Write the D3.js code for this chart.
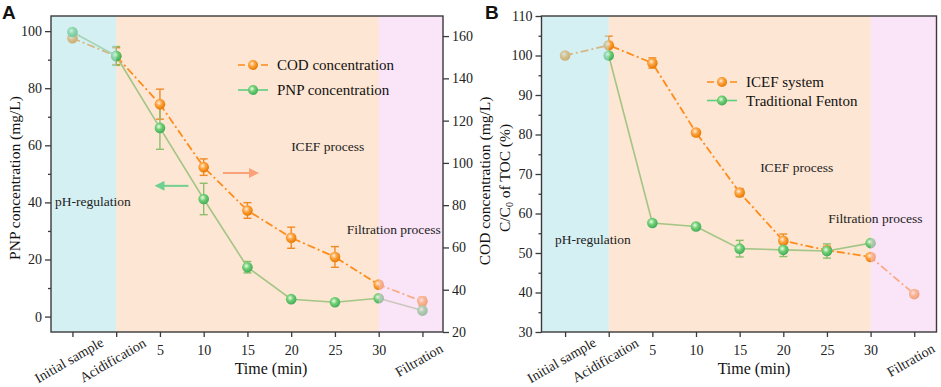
<!DOCTYPE html>
<html>
<head>
<meta charset="utf-8">
<script src="https://cdn.jsdelivr.net/npm/d3@7"></script>
<style>
  body { margin: 0; background: #fff; }
  svg { display: block; font-family: "Liberation Serif", "Times New Roman", serif; }
</style>
</head>
<body>
<svg width="941" height="387"></svg>
<script>
// categories on the x axis (shared by both panels)
var categories = ["Initial sample", "Acidification", "5", "10", "15", "20", "25", "30", "Filtration"];

// panel A : PNP (left axis) and COD (right axis), mg/L
var pnpValues = [99.7, 91.3, 66.1, 41.2, 17.3, 6.1, 5.0, 6.4, 2.1];
var pnpErrors = [0, 3.3, 7.5, 5.5, 2.0, 0.8, 0.5, 0.8, 0.5];
var codValues = [159, 150.5, 127.8, 98, 77.5, 64.6, 55.5, 42.4, 34.5];
var codErrors = [0, 4.0, 7.1, 3.9, 3.7, 5.0, 4.9, 1.5, 2.0];

// panel B : C/C0 of TOC (%)
var icefValues = [100, 102.6, 98.1, 80.5, 65.3, 53.1, 50.7, 49.0, 39.6];
var icefErrors = [0, 2.3, 1.3, 0.5, 1.0, 1.7, 1.0, 0.5, 0.8];
var fentonValues = [null, 100, 57.6, 56.7, 51.1, 50.8, 50.5, 52.5, null];
var fentonErrors = [0, 0.5, 0.5, 0.5, 2.1, 1.7, 1.8, 0.5, 0];

// tick values
var pnpTicks = [0, 20, 40, 60, 80, 100];
var pnpMinor = [10, 30, 50, 70, 90];
var codTicks = [20, 40, 60, 80, 100, 120, 140, 160];
var tocTicks = [30, 40, 50, 60, 70, 80, 90, 100, 110];
var tocMinor = [35, 45, 55, 65, 75, 85, 95, 105];

var ORANGE = "#ff8c1a", GREEN = "#a3c585";
var svg = d3.select("svg");
var defs = svg.append("defs");

function sphere(id, light, mid, dark) {
  var g = defs.append("radialGradient").attr("id", id)
      .attr("cx", "40%").attr("cy", "38%").attr("r", "62%");
  g.append("stop").attr("offset", "0%").attr("stop-color", light);
  g.append("stop").attr("offset", "45%").attr("stop-color", mid);
  g.append("stop").attr("offset", "100%").attr("stop-color", dark);
}
sphere("ballO", "#fff1dc", "#ffa340", "#e67a00");
sphere("ballG", "#eaffea", "#74cf74", "#3fae5a");

function idx(arr) {
  return arr.map(function(v, i) { return {i: i, v: v}; }).filter(function(d) { return d.v != null; });
}

function panel(o) {
  var g = svg.append("g");
  var x = d3.scaleLinear().domain(o.xDomain).range([o.left, o.right]);

  // region backgrounds (orange under the data)
  g.append("rect").attr("x", x(1)).attr("y", o.top).attr("width", x(7) - x(1))
    .attr("height", o.bottom - o.top).attr("fill", "#fde6d3");

  o.series.forEach(function(s) {
    var data = idx(s.values);
    var line = d3.line().x(function(d) { return x(d.i); }).y(function(d) { return s.y(d.v); });
    g.append("path").attr("d", line(data)).attr("fill", "none")
      .attr("stroke", s.color).attr("stroke-width", s.width)
      .attr("stroke-dasharray", s.dash || null);
    data.forEach(function(d) {
      var e = s.errors[d.i];
      if (e > 0) {
        var y1 = s.y(d.v - e), y2 = s.y(d.v + e), cx = x(d.i);
        var eg = g.append("g").attr("stroke", s.errColor).attr("stroke-width", 1.4);
        eg.append("line").attr("x1", cx).attr("x2", cx).attr("y1", y1).attr("y2", y2);
        eg.append("line").attr("x1", cx - 4).attr("x2", cx + 4).attr("y1", y1).attr("y2", y1);
        eg.append("line").attr("x1", cx - 4).attr("x2", cx + 4).attr("y1", y2).attr("y2", y2);
      }
    });
  });
  o.series.forEach(function(s) {
    g.selectAll(null).data(idx(s.values)).enter().append("circle")
      .attr("cx", function(d) { return x(d.i); })
      .attr("cy", function(d) { return s.y(d.v); })
      .attr("r", 5.3).attr("fill", s.ball);
  });

  // blue / pink regions drawn translucent over the data
  g.append("rect").attr("x", o.left).attr("y", o.top).attr("width", x(1) - o.left)
    .attr("height", o.bottom - o.top).attr("fill", "#abe1e7").attr("opacity", 0.5);
  g.append("rect").attr("x", x(7)).attr("y", o.top).attr("width", o.right - x(7))
    .attr("height", o.bottom - o.top).attr("fill", "#f5c9ef").attr("opacity", 0.5);

  // frame
  g.append("rect").attr("x", o.left).attr("y", o.top).attr("width", o.right - o.left)
    .attr("height", o.bottom - o.top).attr("fill", "none")
    .attr("stroke", "#3a3a3a").attr("stroke-width", 1.4);

  // x axis
  var xa = g.append("g").attr("transform", "translate(0," + o.bottom + ")")
    .call(d3.axisBottom(x).tickValues(d3.range(9)).tickSize(5).tickPadding(8)
      .tickFormat(function(i) { return categories[i]; }));
  styleAxis(xa);
  xa.selectAll(".tick text").filter(function(i) { return isNaN(+categories[i]); })
    .attr("y", 0).attr("dy", "0.35em").attr("text-anchor", "middle")
    .attr("transform", "translate(-4,28) rotate(-30)");

  // y axes
  o.axes.forEach(function(a) {
    var ax = a.side === "left" ? d3.axisLeft(a.y) : d3.axisRight(a.y);
    var pos = a.side === "left" ? o.left : o.right;
    var ag = g.append("g").attr("transform", "translate(" + pos + ",0)")
      .call(ax.tickValues(a.ticks).tickSize(6).tickPadding(3));
    styleAxis(ag);
    if (a.minor) {
      var mg = g.append("g").attr("transform", "translate(" + pos + ",0)")
        .call((a.side === "left" ? d3.axisLeft(a.y) : d3.axisRight(a.y))
          .tickValues(a.minor).tickSize(3).tickFormat(""));
      styleAxis(mg);
    }
  });

  // titles
  g.append("text").attr("x", o.timeX).attr("y", 374).attr("text-anchor", "middle")
    .attr("font-size", 16).attr("fill", "#111").text("Time (min)");
  svg.append("text").attr("x", o.letterX).attr("y", 19)
    .attr("font-family", "'Liberation Sans', Arial, sans-serif").attr("font-weight", "bold")
    .attr("font-size", 19).attr("fill", "#111").text(o.letter);

  // region labels
  var lab = function(tx, ty, anchor, t) {
    g.append("text").attr("x", tx).attr("y", ty).attr("dy", "0.35em").attr("text-anchor", anchor)
      .attr("font-size", 13.5).attr("fill", "#222").text(t);
  };
  lab(o.ph[0], o.ph[1], "start", "pH-regulation");
  lab(o.icef[0], o.icef[1], "middle", "ICEF process");
  lab(o.filt[0], o.filt[1], "start", "Filtration process");

  // legend
  o.series.forEach(function(s, k) {
    var ly = o.legend[1] + k * o.legend[2];
    var lx = o.legend[0];
    g.append("line").attr("x1", lx).attr("x2", lx + 30).attr("y1", ly).attr("y2", ly)
      .attr("stroke", s.legColor).attr("stroke-width", 1.6)
      .attr("stroke-dasharray", s.dash ? "7,16,7" : null);
    g.append("circle").attr("cx", lx + 15).attr("cy", ly).attr("r", 5).attr("fill", s.ball);
    g.append("text").attr("x", lx + 39).attr("y", ly).attr("dy", "0.35em")
      .attr("font-size", 15).attr("fill", "#111").text(s.name);
  });
  return {g: g, x: x};
}

function styleAxis(sel) {
  sel.select(".domain").remove();
  sel.selectAll(".tick line").attr("stroke", "#3a3a3a").attr("stroke-width", 1.3);
  sel.selectAll(".tick text").attr("font-family", "'Liberation Serif', 'Times New Roman', serif")
    .attr("font-size", 14).attr("fill", "#222");
}

// ---------- panel A ----------
var yPnp = d3.scaleLinear().domain([-5.4, 105.3]).range([332, 16]);
var yCod = d3.scaleLinear().domain([20, 169.5]).range([332, 16]);
var pA = panel({
  left: 51, right: 443, top: 16, bottom: 332, xDomain: [-0.49, 8.47],
  letter: "A", letterX: 2, timeX: 271,
  ph: [55, 201], icef: [327.7, 146], filt: [346.7, 229.5],
  legend: [238, 65, 25],
  series: [
    {name: "COD concentration", values: codValues, errors: codErrors, y: yCod,
     color: ORANGE, width: 1.8, dash: "8,3,2,3", errColor: "#f08a24", ball: "url(#ballO)", legColor: ORANGE},
    {name: "PNP concentration", values: pnpValues, errors: pnpErrors, y: yPnp,
     color: GREEN, width: 1.6, errColor: "#8cbf6c", ball: "url(#ballG)", legColor: "#5fcf80"}
  ],
  axes: [
    {side: "left", y: yPnp, ticks: pnpTicks, minor: pnpMinor},
    {side: "right", y: yCod, ticks: codTicks}
  ]
});
pA.g.append("text").attr("transform", "translate(15,178) rotate(-90)")
  .attr("text-anchor", "middle").attr("dy", "0.35em").attr("font-size", 15.5).attr("fill", "#111")
  .text("PNP concentration (mg/L)");
pA.g.append("text").attr("transform", "translate(485,181) rotate(-90)")
  .attr("text-anchor", "middle").attr("dy", "0.35em").attr("font-size", 15.5).attr("fill", "#111")
  .text("COD concentration (mg/L)");

// direction arrows (which axis each curve belongs to)
defs.append("marker").attr("id", "headG").attr("viewBox", "0 0 10 10").attr("refX", 5).attr("refY", 5)
  .attr("markerWidth", 5).attr("markerHeight", 5).attr("orient", "auto")
  .append("path").attr("d", "M0,0L10,5L0,10z").attr("fill", "#6fd08f");
defs.append("marker").attr("id", "headO").attr("viewBox", "0 0 10 10").attr("refX", 5).attr("refY", 5)
  .attr("markerWidth", 5).attr("markerHeight", 5).attr("orient", "auto")
  .append("path").attr("d", "M0,0L10,5L0,10z").attr("fill", "#f9a27a");
pA.g.append("line").attr("x1", pA.x(2.65)).attr("x2", pA.x(1.99)).attr("y1", yPnp(45.8)).attr("y2", yPnp(45.8))
  .attr("stroke", "#6fd08f").attr("stroke-width", 2).attr("marker-end", "url(#headG)");
pA.g.append("line").attr("x1", pA.x(3.44)).attr("x2", pA.x(4.15)).attr("y1", yPnp(50.3)).attr("y2", yPnp(50.3))
  .attr("stroke", "#f9a27a").attr("stroke-width", 2).attr("marker-end", "url(#headO)");

// ---------- panel B ----------
var yToc = d3.scaleLinear().domain([30, 110]).range([332, 16]);
var pB = panel({
  left: 541.5, right: 936.5, top: 16, bottom: 332, xDomain: [-0.54, 8.51],
  letter: "B", letterX: 485, timeX: 754,
  ph: [555, 239.5], icef: [796.7, 167], filt: [828.3, 218],
  legend: [707, 82, 18.5],
  series: [
    {name: "ICEF system", values: icefValues, errors: icefErrors, y: yToc,
     color: ORANGE, width: 1.8, dash: "8,3,2,3", errColor: "#f08a24", ball: "url(#ballO)", legColor: ORANGE},
    {name: "Traditional Fenton", values: fentonValues, errors: fentonErrors, y: yToc,
     color: GREEN, width: 1.6, errColor: "#8cbf6c", ball: "url(#ballG)", legColor: "#5fcf80"}
  ],
  axes: [
    {side: "left", y: yToc, ticks: tocTicks, minor: tocMinor}
  ]
});
var tB = pB.g.append("text").attr("transform", "translate(505,178) rotate(-90)")
  .attr("text-anchor", "middle").attr("dy", "0.35em").attr("font-size", 15.5).attr("fill", "#111");
tB.append("tspan").text("C/C");
tB.append("tspan").attr("font-size", 10).attr("dy", "3").text("0");
tB.append("tspan").attr("dy", "-3").text(" of TOC (%)");
</script>
</body>
</html>
